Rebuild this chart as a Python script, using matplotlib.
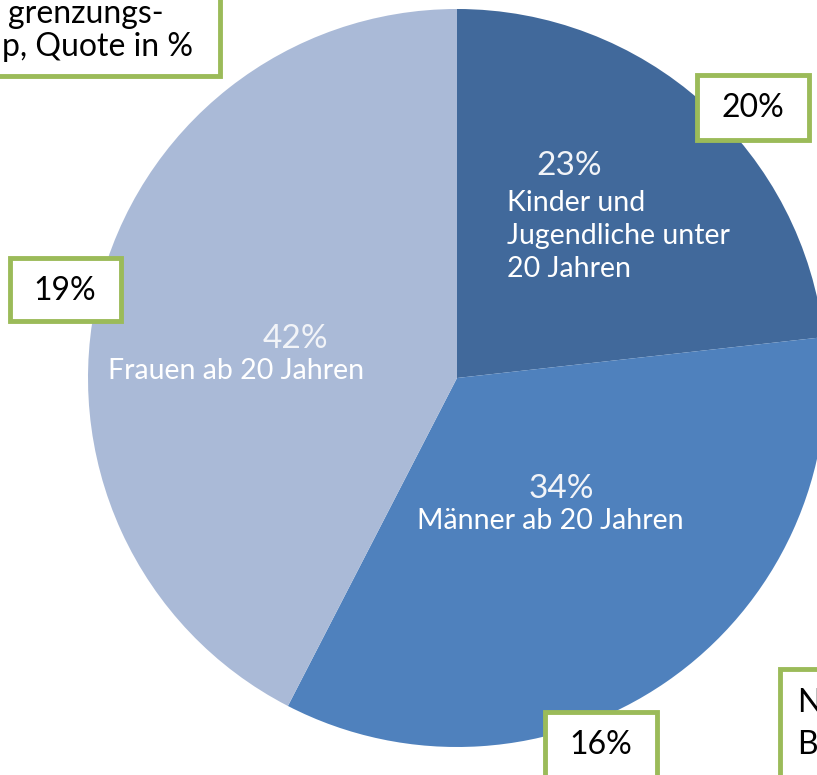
import matplotlib.pyplot as plt
from matplotlib.patches import Rectangle

plt.rcParams['font.family'] = ['Lato', 'DejaVu Sans']

gruppen = ["Kinder und\nJugendliche unter\n20 Jahren", "Männer ab 20 Jahren", "Frauen ab 20 Jahren"]
anteile = [23, 34, 42]
farben = ['#41699B', '#4F81BD', '#AABAD7']
quoten = ["20%", "19%", "16%"]

W, H = 817, 775
fig = plt.figure(figsize=(W / 100, H / 100), dpi=100)
ax = fig.add_axes([0, 0, 1, 1])


def py(y):
    # pixel y (von oben) -> Datenkoordinate
    return H - y


ax.pie(anteile, colors=farben, startangle=90, counterclock=False,
       center=(457, py(378)), radius=369, frame=True,
       wedgeprops={'linewidth': 0})
ax.set_xlim(0, W)
ax.set_ylim(0, H)
ax.set_aspect('equal')
ax.axis('off')

# Beschriftungen in den Segmenten
weiss = '#F2F4F8'
ax.text(569, py(166), f"{anteile[0]}%", color=weiss, fontsize=24, ha='center', va='center')
ax.text(507, py(236), gruppen[0], color='white', fontsize=20.5, ha='left', va='center',
        linespacing=1.33)
ax.text(561, py(489), f"{anteile[1]}%", color=weiss, fontsize=24, ha='center', va='center')
ax.text(550, py(521), gruppen[1], color='white', fontsize=20.5, ha='center', va='center')
ax.text(295, py(339), f"{anteile[2]}%", color=weiss, fontsize=24, ha='center', va='center')
ax.text(236, py(371), gruppen[2], color='white', fontsize=20.5, ha='center', va='center')

gruen = '#9BBB59'


def kasten(x0, y0, x1, y1):
    ax.add_patch(Rectangle((x0, py(y1)), x1 - x0, y1 - y0, facecolor='white',
                           edgecolor=gruen, linewidth=3.5, clip_on=False, zorder=5))


# Kasten oben links (im Original abgeschnitten)
kasten(-20, -20, 220, 76)
ax.text(164, py(14), "grenzungs-", fontsize=23, ha='right',
        va='center', zorder=6)
ax.text(193, py(47), "p, Quote in %", fontsize=23, ha='right',
        va='center', zorder=6)

# Kästen mit Quoten
kasten(697, 75, 809, 140)
ax.text(753, py(108), quoten[0], fontsize=23, ha='center', va='center', zorder=6)
kasten(10, 258, 121, 321)
ax.text(65, py(291), quoten[1], fontsize=23, ha='center', va='center', zorder=6)
kasten(545, 712, 657, 800)
ax.text(601, py(745), quoten[2], fontsize=23, ha='center', va='center', zorder=6)

# Kasten unten rechts (im Original abgeschnitten)
kasten(780, 669, 900, 800)
ax.text(797, py(703), "N", fontsize=23, ha='left', va='center', zorder=6)
ax.text(797, py(745), "B", fontsize=23, ha='left', va='center', zorder=6)

fig.savefig('out.png', dpi=100)
